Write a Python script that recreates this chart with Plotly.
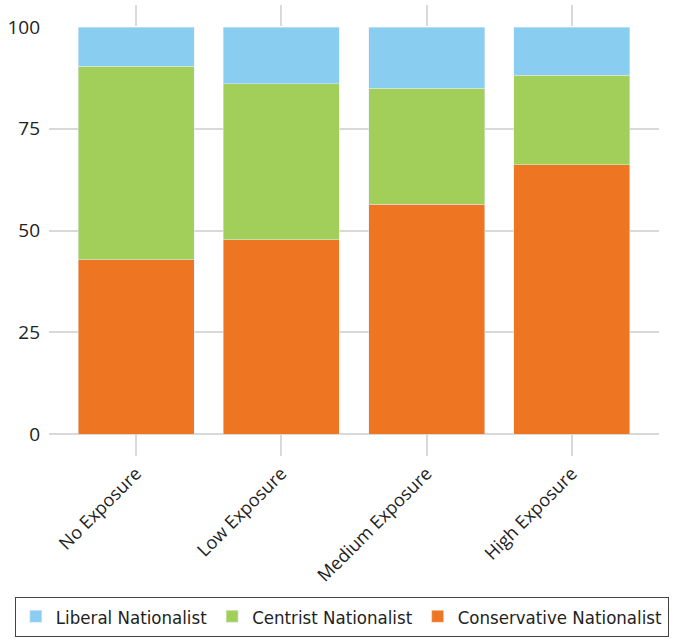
import plotly.graph_objects as go

categories = ["No Exposure", "Low Exposure", "Medium Exposure", "High Exposure"]
conservative = [42.8, 47.7, 56.5, 66.1]
centrist = [47.6, 38.3, 28.5, 22.1]
liberal = [9.6, 14.0, 15.0, 11.8]

fig = go.Figure()
fig.add_trace(go.Bar(name="Conservative Nationalist", x=categories, y=conservative, marker_color="#EE7623"))
fig.add_trace(go.Bar(name="Centrist Nationalist", x=categories, y=centrist, marker_color="#A2CE5A"))
fig.add_trace(go.Bar(name="Liberal Nationalist", x=categories, y=liberal, marker_color="#89CDF0"))

fig.update_layout(
    barmode="stack",
    bargap=0.2,
    width=677, height=639,
    margin=dict(l=49, r=18, t=27, b=205, autoexpand=False),
    plot_bgcolor="white", paper_bgcolor="white",
    font=dict(family="Open Sans", size=16, color="#222222"),
    showlegend=True,
    legend=dict(
        orientation="h", traceorder="reversed",
        x=-0.056, xanchor="left", y=-0.4, yanchor="top",
        bordercolor="#444444", borderwidth=1,
        font=dict(family="Liberation Sans Narrow, DejaVu Sans Condensed, Lato", size=18.5, color="#222222"),
        itemwidth=30,
    ),
    xaxis=dict(
        range=[-0.6, 3.6],
        tickangle=-45,
        automargin=False,
        showgrid=True, gridcolor="#d9d9d9", gridwidth=1.5,
        ticks="outside", ticklen=21, tickcolor="#d9d9d9", tickwidth=1.5,
        mirror="ticks", showline=False,
        tickfont=dict(family="Open Sans", size=18, color="#222222"),
    ),
    yaxis=dict(
        range=[0, 100],
        tickvals=[0, 25, 50, 75, 100],
        automargin=False,
        showgrid=True, gridcolor="#d9d9d9", gridwidth=1.5,
        zeroline=True, zerolinecolor="#d9d9d9", zerolinewidth=1.5,
        ticks="", ticklabelstandoff=8,
        tickfont=dict(family="Open Sans", size=19, color="#222222"),
    ),
)

fig.write_html(
    "out.html",
    config={"displayModeBar": False},
    post_script="document.body.style.margin='0px';document.body.style.overflow='hidden';",
)
